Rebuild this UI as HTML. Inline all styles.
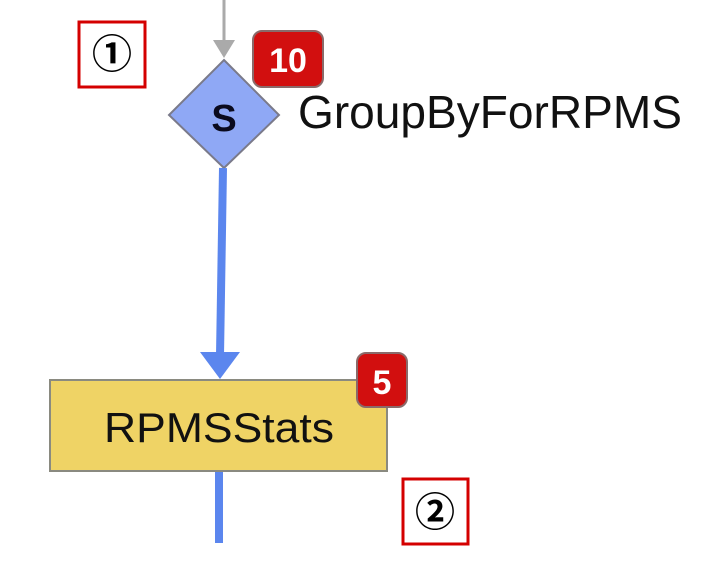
<!DOCTYPE html>
<html><head><meta charset="utf-8"><style>html,body{margin:0;padding:0;background:#fff}svg{display:block}</style></head>
<body>
<svg width="708" height="562" viewBox="0 0 708 562" xmlns="http://www.w3.org/2000/svg">
<rect x="79" y="22" width="66" height="65" fill="none" stroke="#d40000" stroke-width="3"/>
<text x="112" y="68" font-family="'Noto Sans CJK JP', sans-serif" font-size="40" font-weight="bold" text-anchor="middle" fill="#000">①</text>
<line x1="224" y1="0" x2="224" y2="42" stroke="#aaa" stroke-width="3"/>
<polygon points="213,40 235,40 224,58" fill="#aaa"/>
<polygon points="224,60 279,115 224,168 169,115" fill="#8fa8f5" stroke="#7a7a8a" stroke-width="2"/>
<text x="224" y="131" font-family="Liberation Sans, sans-serif" font-size="38" font-weight="bold" text-anchor="middle" fill="#0a0a1e">S</text>
<rect x="253" y="31" width="70" height="56" rx="9" fill="#d20f0f" stroke="#8a6a6a" stroke-width="2"/>
<text x="288" y="72" font-family="Liberation Sans, sans-serif" font-size="34" font-weight="bold" text-anchor="middle" fill="#fff">10</text>
<text x="298" y="128" font-family="Liberation Sans, sans-serif" font-size="46" fill="#111" textLength="384" lengthAdjust="spacingAndGlyphs">GroupByForRPMS</text>
<line x1="223" y1="168" x2="220" y2="356" stroke="#5b86ee" stroke-width="8"/>
<polygon points="200,352 240,352 220,379" fill="#5b86ee"/>
<rect x="50" y="380" width="337" height="91" fill="#efd365" stroke="#8a8a80" stroke-width="2"/>
<text x="219" y="442" font-family="Liberation Sans, sans-serif" font-size="42" text-anchor="middle" fill="#111" textLength="230" lengthAdjust="spacingAndGlyphs">RPMSStats</text>
<rect x="357" y="353" width="50" height="54" rx="9" fill="#d20f0f" stroke="#8a6a6a" stroke-width="2"/>
<text x="382" y="394" font-family="Liberation Sans, sans-serif" font-size="34" font-weight="bold" text-anchor="middle" fill="#fff">5</text>
<line x1="219" y1="472" x2="219" y2="543" stroke="#5b86ee" stroke-width="8"/>
<rect x="403" y="479" width="65" height="65" fill="none" stroke="#d40000" stroke-width="3"/>
<text x="435" y="526" font-family="'Noto Sans CJK JP', sans-serif" font-size="40" font-weight="bold" text-anchor="middle" fill="#000">②</text>
</svg>
</body></html>
